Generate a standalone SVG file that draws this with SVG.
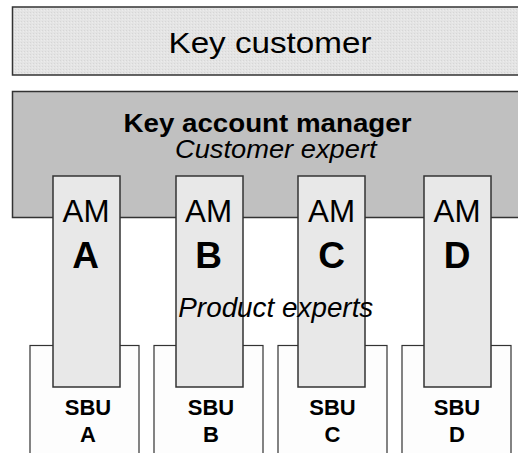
<svg xmlns="http://www.w3.org/2000/svg" width="518" height="453" viewBox="0 0 518 453">
<defs>
<pattern id="tex" width="3" height="3" patternUnits="userSpaceOnUse">
<rect width="3" height="3" fill="#e4e4e4"/>
<rect x="0" y="0" width="1" height="1" fill="#d6d6d6"/>
<rect x="2" y="1" width="1" height="1" fill="#ececec"/>
</pattern>
</defs>
<style>
text{font-family:"Liberation Sans",Arial,sans-serif;fill:#000;text-anchor:middle}
.box{stroke:#333;stroke-width:1.5}
.am{fill:#e8e8e8;stroke:#333;stroke-width:1.5}
.sbu{fill:#fdfdfd;stroke:#333;stroke-width:1.2}
.amt{font-size:31px}
.aml{font-size:37px;font-weight:bold}
.sb{font-size:22px;font-weight:bold}
</style>
<g id="key-customer">
<rect class="box" x="12.5" y="7" width="520" height="68" fill="url(#tex)"/>
<text x="270" y="53.3" font-size="30" textLength="203" lengthAdjust="spacingAndGlyphs">Key customer</text>
</g>
<g id="key-account-manager">
<rect class="box" x="12.5" y="91.5" width="520" height="126" fill="#c0c0c0" stroke="#404040"/>
<text x="267.5" y="131.7" font-size="25" font-weight="bold" textLength="288" lengthAdjust="spacingAndGlyphs">Key account manager</text>
<text x="275.8" y="158.3" font-size="25" font-style="italic" textLength="201.7" lengthAdjust="spacingAndGlyphs">Customer expert</text>
</g>
<g id="sbu-a"><rect class="sbu" x="30" y="345.5" width="109" height="120"/><text class="sb" x="88" y="415">SBU</text><text class="sb" x="88" y="441.7">A</text></g>
<g id="sbu-b"><rect class="sbu" x="154" y="345.5" width="109" height="120"/><text class="sb" x="211" y="415">SBU</text><text class="sb" x="211" y="441.7">B</text></g>
<g id="sbu-c"><rect class="sbu" x="278" y="345.5" width="109" height="120"/><text class="sb" x="332.5" y="415">SBU</text><text class="sb" x="332.5" y="441.7">C</text></g>
<g id="sbu-d"><rect class="sbu" x="402" y="345.5" width="109" height="120"/><text class="sb" x="457" y="415">SBU</text><text class="sb" x="457" y="441.7">D</text></g>
<g id="am-a"><rect class="am" x="53" y="176" width="67" height="211"/><text class="amt" x="86" y="222" textLength="47" lengthAdjust="spacingAndGlyphs">AM</text><text class="aml" x="85.5" y="268">A</text></g>
<g id="am-b"><rect class="am" x="176" y="176" width="67" height="211"/><text class="amt" x="208.5" y="222" textLength="47" lengthAdjust="spacingAndGlyphs">AM</text><text class="aml" x="208.5" y="268">B</text></g>
<g id="am-c"><rect class="am" x="298" y="176" width="67" height="211"/><text class="amt" x="331.5" y="222" textLength="47" lengthAdjust="spacingAndGlyphs">AM</text><text class="aml" x="331.5" y="268">C</text></g>
<g id="am-d"><rect class="am" x="424" y="176" width="67" height="211"/><text class="amt" x="457" y="222" textLength="47" lengthAdjust="spacingAndGlyphs">AM</text><text class="aml" x="457" y="268">D</text></g>
<g id="product-experts">
<text x="275.8" y="316.7" font-size="27" font-style="italic" textLength="195" lengthAdjust="spacingAndGlyphs">Product experts</text>
</g>
</svg>
